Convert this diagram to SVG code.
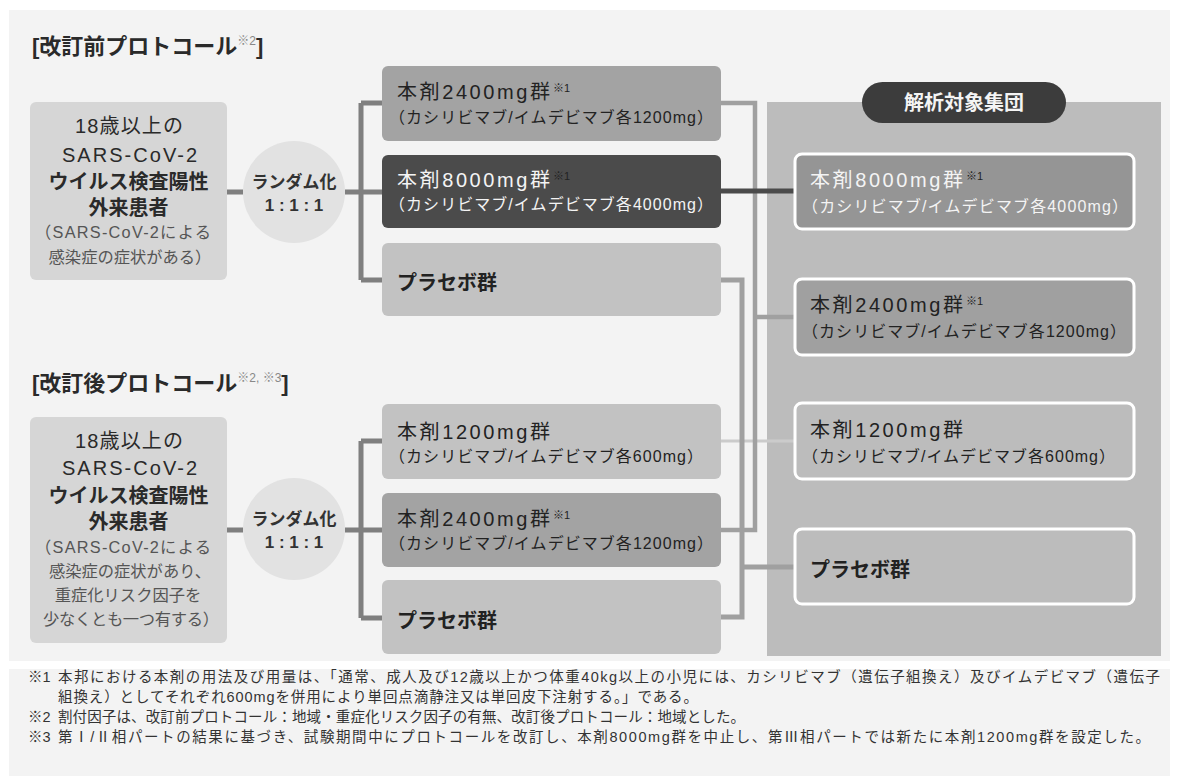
<svg xmlns="http://www.w3.org/2000/svg" width="1179" height="776" viewBox="0 0 1179 776">
<style>
text{font-family:'Liberation Sans','Noto Sans CJK JP',sans-serif;fill:#222}
.ttl{font-size:22px;font-weight:bold;fill:#2a2a2a}
.sup{font-size:12px;font-weight:normal}
.sup2{font-size:11px}
.lb{font-size:20px;text-anchor:middle;fill:#2a2a2a}
.lbb{font-size:20px;text-anchor:middle;font-weight:bold;fill:#2a2a2a}
.ls{font-size:16.3px;text-anchor:middle;fill:#555}
.rnd{font-size:17px;font-weight:bold;text-anchor:middle;fill:#333}
.g1{font-size:20px}
.g2{font-size:16px}
.pl{font-size:20px;font-weight:bold}
.wt{fill:#f4f4f4}
.fn{font-size:14.5px;fill:#333}
.lconn{stroke:#7f7f7f;stroke-width:5;fill:none}
.rbox{stroke:#fff;stroke-width:3}
</style>
<rect width="1179" height="776" fill="#fff"/>
<rect x="9" y="10" width="1161" height="651" fill="#f3f3f3"/>
<rect x="9" y="669" width="1161" height="107" fill="#f3f3f3"/>
<rect x="767" y="102" width="394" height="554" fill="#bcbcbc"/>

<text class="ttl" x="32" y="54">[改訂前プロトコール<tspan class="sup" fill="#888" dy="-9">※2</tspan><tspan dy="9">]</tspan></text>
<text class="ttl" x="32" y="391">[改訂後プロトコール<tspan class="sup" fill="#888" dy="-9">※2, ※3</tspan><tspan dy="9">]</tspan></text>

<g id="connectors">
<path class="lconn" d="M227 192H243M345 192H361M361 103V280M361 103H382M361 192H382M361 280H382"/>
<path class="lconn" d="M227 530H243M345 530H361M361 441V618M361 441H382M361 530H382M361 618H382"/>
<path d="M721 441H795" stroke="#cbcbcb" stroke-width="3" fill="none"/>
<path d="M721 103H755V530H721M755 317H795" stroke="#a0a0a0" stroke-width="4.5" fill="none"/>
<path d="M721 280H742V617H721M742 567H795" stroke="#a0a0a0" stroke-width="5" fill="none"/>
<path d="M721 191H795" stroke="#4b4b4b" stroke-width="5" fill="none"/>
</g>

<g id="pre-patients">
<rect x="30" y="102" width="197" height="178" rx="6" fill="#d6d6d6"/>
<text class="lb" x="129" y="133" textLength="108">18歳以上の</text>
<text class="lb" x="129.5" y="162" textLength="135">SARS-CoV-2</text>
<text class="lbb" x="128.5" y="189">ウイルス検査陽性</text>
<text class="lbb" x="128.5" y="215">外来患者</text>
<text class="ls" x="123" y="238" textLength="176">（SARS-CoV-2による</text>
<text class="ls" x="130" y="263">感染症の症状がある）</text>
</g>
<g id="pre-random">
<circle cx="294" cy="192" r="51" fill="#e2e2e2"/>
<text class="rnd" x="294" y="188">ランダム化</text>
<text class="rnd" x="294" y="211">1 : 1 : 1</text>
</g>
<g id="pre-2400">
<rect x="382" y="66" width="339" height="75" rx="6" fill="#a3a3a3"/>
<text class="g1" x="397" y="99" textLength="153">本剤2400mg群</text>
<text class="sup2" x="553" y="92" fill="#e6e6e6">※1</text>
<text class="g2" x="389" y="123" textLength="324">（カシリビマブ/イムデビマブ各1200mg）</text>
</g>
<g id="pre-8000">
<rect x="382" y="155" width="339" height="73" rx="6" fill="#4b4b4b"/>
<text class="g1 wt" x="397" y="187" textLength="153">本剤8000mg群</text>
<text class="sup2" x="553" y="180" fill="#ddd">※1</text>
<text class="g2 wt" x="389" y="210" textLength="324">（カシリビマブ/イムデビマブ各4000mg）</text>
</g>
<g id="pre-placebo">
<rect x="382" y="243" width="339" height="73" rx="6" fill="#c2c2c2"/>
<text class="pl" x="397" y="290">プラセボ群</text>
</g>

<g id="post-patients">
<rect x="30" y="417" width="197" height="226" rx="6" fill="#d6d6d6"/>
<text class="lb" x="129" y="448" textLength="108">18歳以上の</text>
<text class="lb" x="129.5" y="475" textLength="135">SARS-CoV-2</text>
<text class="lbb" x="128.5" y="503">ウイルス検査陽性</text>
<text class="lbb" x="128.5" y="529">外来患者</text>
<text class="ls" x="123" y="553" textLength="176">（SARS-CoV-2による</text>
<text class="ls" x="130" y="577">感染症の症状があり、</text>
<text class="ls" x="128" y="601">重症化リスク因子を</text>
<text class="ls" x="131" y="625" textLength="176">少なくとも一つ有する）</text>
</g>
<g id="post-random">
<circle cx="294" cy="529" r="51" fill="#e2e2e2"/>
<text class="rnd" x="294" y="525">ランダム化</text>
<text class="rnd" x="294" y="548">1 : 1 : 1</text>
</g>
<g id="post-1200">
<rect x="382" y="404" width="339" height="75" rx="6" fill="#c2c2c2"/>
<text class="g1" x="397" y="439" textLength="153">本剤1200mg群</text>
<text class="g2" x="389" y="462" textLength="314">（カシリビマブ/イムデビマブ各600mg）</text>
</g>
<g id="post-2400">
<rect x="382" y="493" width="339" height="74" rx="6" fill="#a3a3a3"/>
<text class="g1" x="397" y="526" textLength="153">本剤2400mg群</text>
<text class="sup2" x="553" y="519" fill="#e6e6e6">※1</text>
<text class="g2" x="389" y="549" textLength="324">（カシリビマブ/イムデビマブ各1200mg）</text>
</g>
<g id="post-placebo">
<rect x="382" y="580" width="339" height="74" rx="6" fill="#c2c2c2"/>
<text class="pl" x="397" y="628">プラセボ群</text>
</g>

<g id="analysis-label">
<rect x="862" y="82" width="204" height="41" rx="20.5" fill="#3c3c3c"/>
<text x="964" y="110" font-size="20" font-weight="bold" text-anchor="middle" class="wt">解析対象集団</text>
</g>
<g id="ana-8000">
<rect class="rbox" x="795" y="154" width="339" height="75" rx="7" fill="#959595"/>
<text class="g1 wt" x="810" y="187" textLength="153">本剤8000mg群</text>
<text class="sup2" x="966" y="180" fill="#e0e0e0">※1</text>
<text class="g2 wt" x="802" y="212" textLength="326">（カシリビマブ/イムデビマブ各4000mg）</text>
</g>
<g id="ana-2400">
<rect class="rbox" x="795" y="279" width="339" height="76" rx="7" fill="#a0a0a0"/>
<text class="g1" x="810" y="312" textLength="153">本剤2400mg群</text>
<text class="sup2" x="966" y="305" fill="#555">※1</text>
<text class="g2" x="802" y="337" textLength="324">（カシリビマブ/イムデビマブ各1200mg）</text>
</g>
<g id="ana-1200">
<rect class="rbox" x="795" y="403" width="339" height="76" rx="7" fill="#bcbcbc"/>
<text class="g1" x="810" y="437" textLength="153">本剤1200mg群</text>
<text class="g2" x="802" y="462" textLength="313">（カシリビマブ/イムデビマブ各600mg）</text>
</g>
<g id="ana-placebo">
<rect class="rbox" x="795" y="529" width="339" height="75" rx="7" fill="#bcbcbc"/>
<text class="pl" x="810" y="577">プラセボ群</text>
</g>

<g id="footnotes">
<text class="fn" x="28" y="682">※1</text>
<text class="fn" x="58" y="682" textLength="1102">本邦における本剤の用法及び用量は、「通常、成人及び12歳以上かつ体重40kg以上の小児には、カシリビマブ（遺伝子組換え）及びイムデビマブ（遺伝子</text>
<text class="fn" x="58" y="702" textLength="640">組換え）としてそれぞれ600mgを併用により単回点滴静注又は単回皮下注射する。」である。</text>
<text class="fn" x="28" y="722">※2</text>
<text class="fn" x="58" y="722" textLength="687">割付因子は、改訂前プロトコール：地域・重症化リスク因子の有無、改訂後プロトコール：地域とした。</text>
<text class="fn" x="28" y="742">※3</text>
<text class="fn" x="58" y="742" textLength="1092">第Ⅰ/Ⅱ相パートの結果に基づき、試験期間中にプロトコールを改訂し、本剤8000mg群を中止し、第Ⅲ相パートでは新たに本剤1200mg群を設定した。</text>
</g>
</svg>
